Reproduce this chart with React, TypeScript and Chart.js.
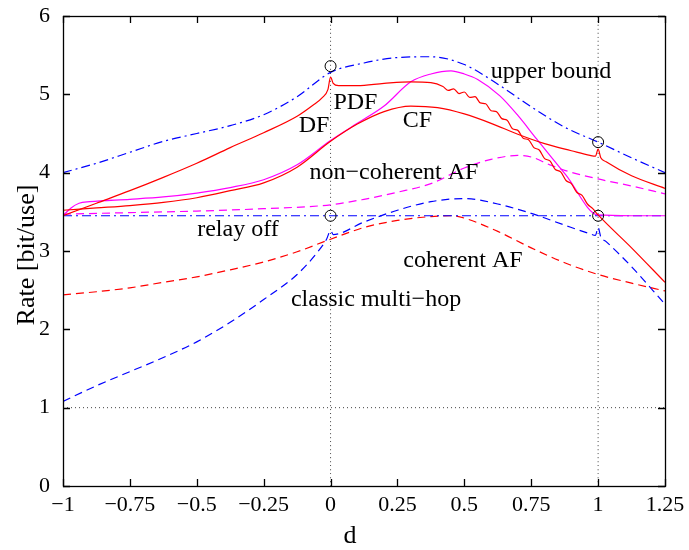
import { useEffect, useRef } from 'react';
import { Chart, registerables } from 'chart.js';

Chart.register(...registerables);

const FONT = '"Liberation Serif", "Times New Roman", serif';

const xTicks = [-1, -0.75, -0.5, -0.25, 0, 0.25, 0.5, 0.75, 1, 1.25];
const yTicks = [0, 1, 2, 3, 4, 5, 6];

// upper bound (blue dash-dot)
const ubX = [-1, -0.875, -0.75, -0.625, -0.5, -0.375, -0.25, -0.125, 0, 0.125, 0.25, 0.375, 0.5, 0.625, 0.75, 0.875, 1, 1.125, 1.25];
const ubY = [4.0, 4.12, 4.26, 4.4, 4.5, 4.6, 4.74, 4.97, 5.28, 5.4, 5.47, 5.48, 5.38, 5.13, 4.84, 4.58, 4.39, 4.19, 4.0];

// DF (red solid)
const dfX = [-1, -0.875, -0.75, -0.625, -0.5, -0.375, -0.25, -0.125, -0.066, -0.03, -0.01, 0, 0.01, 0.03, 0.1, 0.2, 0.3, 0.375,
  0.42, 0.44, 0.46, 0.48, 0.5, 0.52, 0.54, 0.56, 0.58, 0.6, 0.62, 0.64, 0.66, 0.68, 0.7, 0.72, 0.74, 0.76, 0.78, 0.8,
  0.82, 0.84, 0.86, 0.88, 0.9, 0.92, 0.94, 0.96, 0.98, 1, 1.125, 1.25];
const dfY = [3.45, 3.61, 3.77, 3.94, 4.12, 4.32, 4.51, 4.72, 4.86, 4.96, 5.06, 5.22, 5.14, 5.11, 5.11, 5.14, 5.16, 5.15,
  5.1, 5.05, 5.07, 5.01, 5.03, 4.96, 4.97, 4.89, 4.88, 4.79, 4.78, 4.69, 4.67, 4.56, 4.54, 4.44, 4.42, 4.32, 4.29, 4.18,
  4.15, 4.04, 4.01, 3.9, 3.86, 3.75, 3.71, 3.6, 3.54, 3.46, 3.04, 2.6];

// CF (red solid)
const cfX = [-1, -0.875, -0.75, -0.625, -0.5, -0.375, -0.25, -0.125, 0, 0.1, 0.2, 0.3, 0.4, 0.5, 0.6, 0.7, 0.8, 0.9, 0.97, 0.99, 1, 1.01, 1.03, 1.125, 1.25];
const cfY = [3.52, 3.55, 3.58, 3.62, 3.68, 3.77, 3.87, 4.07, 4.4, 4.62, 4.78, 4.85, 4.83, 4.75, 4.63, 4.49, 4.37, 4.28, 4.22, 4.21, 4.3, 4.19, 4.14, 3.96, 3.8];

// PDF (magenta solid)
const pdfX = [-1, -0.97, -0.94, -0.9, -0.75, -0.625, -0.5, -0.375, -0.25, -0.125, 0, 0.1, 0.2, 0.3, 0.375, 0.45, 0.5, 0.55, 0.633, 0.7, 0.77, 0.88, 1, 1.125, 1.25];
const pdfY = [3.45, 3.55, 3.61, 3.63, 3.66, 3.69, 3.74, 3.81, 3.91, 4.1, 4.41, 4.63, 4.85, 5.16, 5.26, 5.3, 5.26, 5.19, 4.98, 4.73, 4.43, 3.97, 3.46, 3.45, 3.45];

// non-coherent AF (magenta dashed)
const ncX = [-1, -0.75, -0.5, -0.25, 0, 0.125, 0.25, 0.375, 0.5, 0.6, 0.7, 0.75, 0.82, 0.875, 1, 1.125, 1.25];
const ncY = [3.47, 3.49, 3.51, 3.54, 3.59, 3.66, 3.75, 3.86, 4.06, 4.17, 4.22, 4.2, 4.1, 4.03, 3.92, 3.83, 3.73];

// relay off (blue dash-dot)
const roX = [-1, 1.25];
const roY = [3.45, 3.45];

// coherent AF (red dashed)
const caX = [-1, -0.875, -0.75, -0.625, -0.5, -0.375, -0.25, -0.125, 0, 0.125, 0.25, 0.375, 0.45, 0.5, 0.625, 0.75, 0.875, 1, 1.125, 1.25];
const caY = [2.44, 2.48, 2.53, 2.6, 2.67, 2.76, 2.86, 2.99, 3.15, 3.3, 3.39, 3.44, 3.45, 3.42, 3.25, 3.04, 2.85, 2.7, 2.59, 2.49];

// classic multi-hop (blue dashed)
const mhX = [-1, -0.875, -0.75, -0.625, -0.5, -0.375, -0.25, -0.125, -0.05, -0.015, 0, 0.01, 0.125, 0.25, 0.375, 0.5, 0.625, 0.75, 0.875, 0.97, 0.99, 1, 1.01, 1.03, 1.125, 1.25];
const mhY = [1.08, 1.28, 1.46, 1.64, 1.84, 2.09, 2.38, 2.7, 2.98, 3.15, 3.26, 3.21, 3.37, 3.52, 3.63, 3.67, 3.6, 3.48, 3.33, 3.22, 3.2, 3.3, 3.18, 3.12, 2.8, 2.32];

// marked circles
const circX = [0, 0, 1, 1];
const circY = [5.36, 3.45, 4.39, 3.45];

// dotted reference lines
const refVX = [0, 1];
const refHY = [1];

// text annotations
const labelText = ['upper bound', 'PDF', 'DF', 'CF', 'non\u2212coherent AF', 'relay off', 'coherent AF', 'classic multi\u2212hop'];
const labelX = [0.824, 0.093, -0.062, 0.325, 0.237, -0.346, 0.495, 0.17];
const labelY = [5.214, 4.808, 4.516, 4.58, 3.92, 3.197, 2.8, 2.296];

const zip = (xs: number[], ys: number[]) => xs.map((x, i) => ({ x, y: ys[i] }));

const RED = '#ff0000';
const BLUE = '#0000ff';
const MAG = '#ff00ff';
const DASH = [8, 5];
const DASHDOT = [9, 4, 2, 4];

const TL = 7;

const decor = {
  id: 'decor',
  afterDatasetsDraw(chart: any) {
    const { ctx, chartArea: a, scales } = chart;
    const x = scales.x;
    const y = scales.y;
    ctx.save();
    ctx.strokeStyle = '#000';
    ctx.lineWidth = 1.3;
    ctx.setLineDash([]);
    ctx.strokeRect(Math.round(a.left) + 0.5, Math.round(a.top) + 0.5, Math.round(a.right - a.left), Math.round(a.bottom - a.top));
    ctx.beginPath();
    for (const t of xTicks) {
      const px = Math.round(x.getPixelForValue(t)) + 0.5;
      ctx.moveTo(px, a.bottom);
      ctx.lineTo(px, a.bottom - TL);
      ctx.moveTo(px, a.top);
      ctx.lineTo(px, a.top + TL);
    }
    for (const t of yTicks) {
      const py = Math.round(y.getPixelForValue(t)) + 0.5;
      ctx.moveTo(a.left, py);
      ctx.lineTo(a.left + TL, py);
      ctx.moveTo(a.right, py);
      ctx.lineTo(a.right - TL, py);
    }
    ctx.stroke();

    ctx.fillStyle = '#000';
    ctx.font = `24px ${FONT}`;
    ctx.textAlign = 'center';
    ctx.textBaseline = 'alphabetic';
    labelText.forEach((t, i) => {
      ctx.fillText(t, x.getPixelForValue(labelX[i]), y.getPixelForValue(labelY[i]));
    });

    ctx.font = `26px ${FONT}`;
    ctx.fillText('d', x.getPixelForValue(0.073), a.bottom + 57);
    ctx.translate(a.left - 29, (a.top + a.bottom) / 2 + 4);
    ctx.rotate(-Math.PI / 2);
    ctx.fillText('Rate [bit/use]', 0, 0);
    ctx.restore();
  },
};

export default function App() {
  const ref = useRef<HTMLCanvasElement | null>(null);
  useEffect(() => {
    document.body.style.margin = '0';
    const canvas = ref.current;
    if (!canvas) return;
    const line = (data: any, color: string, dash: number[], extra: any = {}) => ({
      data,
      borderColor: color,
      backgroundColor: color,
      borderWidth: 1.2,
      borderDash: dash,
      pointRadius: 0,
      showLine: true,
      fill: false,
      cubicInterpolationMode: 'monotone',
      ...extra,
    });
    const datasets: any[] = [
      line(zip(circX, circY), '#000', [], {
        showLine: false,
        pointRadius: 5.5,
        pointBorderWidth: 1,
        pointBackgroundColor: 'rgba(0,0,0,0)',
        pointBorderColor: '#000',
      }),
      line(zip(ubX, ubY), BLUE, DASHDOT),
      line(zip(dfX, dfY), RED, []),
      line(zip(cfX, cfY), RED, []),
      line(zip(pdfX, pdfY), MAG, []),
      line(zip(ncX, ncY), MAG, DASH),
      line(zip(roX, roY), BLUE, DASHDOT),
      line(zip(caX, caY), RED, DASH),
      line(zip(mhX, mhY), BLUE, DASH),
      ...refVX.map((v) => line([{ x: v, y: 0 }, { x: v, y: 6 }], '#444', [1, 3], { borderWidth: 1 })),
      ...refHY.map((v) => line([{ x: -1, y: v }, { x: 1.25, y: v }], '#444', [1, 3], { borderWidth: 1 })),
    ];
    const chart = new Chart(canvas, {
      type: 'scatter',
      data: { datasets },
      plugins: [decor],
      options: {
        animation: false,
        responsive: false,
        devicePixelRatio: 1,
        layout: { padding: { left: 0, top: 13, right: 24, bottom: 0 } },
        plugins: { legend: { display: false }, tooltip: { enabled: false } },
        scales: {
          x: {
            type: 'linear',
            min: -1,
            max: 1.25,
            afterBuildTicks: (s: any) => {
              s.ticks = xTicks.map((v) => ({ value: v }));
            },
            afterFit: (s: any) => {
              s.height = 64;
            },
            grid: { display: false },
            border: { display: false },
            ticks: {
              padding: 0,
              color: '#000',
              font: { family: FONT, size: 22, lineHeight: 1 },
              maxRotation: 0,
              autoSkip: false,
              callback: (v: any) => String(v).replace('-', '\u2212'),
            },
          },
          y: {
            type: 'linear',
            min: 0,
            max: 6,
            afterBuildTicks: (s: any) => {
              s.ticks = yTicks.map((v) => ({ value: v }));
            },
            afterFit: (s: any) => {
              s.width = 63;
            },
            grid: { display: false },
            border: { display: false },
            ticks: {
              padding: 5,
              color: '#000',
              font: { family: FONT, size: 22, lineHeight: 1 },
              callback: (v: any) => String(v),
            },
          },
        },
      },
    });
    return () => chart.destroy();
  }, []);
  return <canvas ref={ref} width={689} height={550} style={{ display: 'block' }} />;
}
